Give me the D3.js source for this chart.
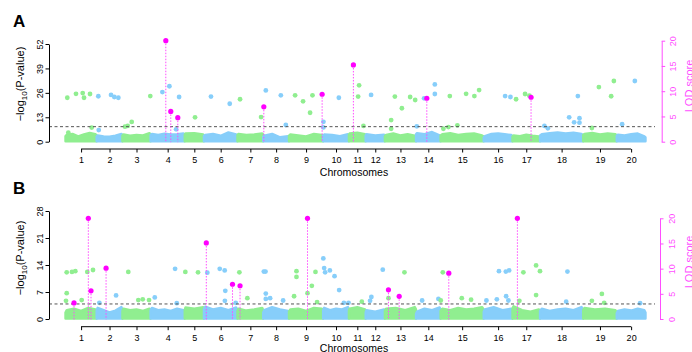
<!DOCTYPE html>
<html>
<head>
<meta charset="utf-8">
<script src="https://cdn.jsdelivr.net/npm/d3@7"></script>
<style>
  body { margin: 0; background: #fff; }
  svg { display: block; font-family: "Liberation Sans", Arial, sans-serif; }
</style>
</head>
<body>
<div id="chart"></div>
<script>
// chromosomes and their (approximate) lengths in Mb
const chromLabels = ['1','2','3','4','5','6','7','8','9','10','11','12','13','14','15','16','17','18','19','20'];
const chromLengths = [52, 43, 47, 57, 32, 56, 43, 43, 57, 43, 28, 32, 52, 41, 72, 48, 46, 72, 56, 48];

const pTicksA = [0, 13, 26, 39, 52];
const pTicksB = [0, 7, 14, 21, 28];
const lodTicks = [0, 5, 10, 15, 20];
const thresholdA = 8.0;
const thresholdB = 3.9;

// top of the dense cloud of non-significant SNPs, per chromosome (-log10 P)
const bandA = [
  [4.2, 4.8, 3.5, 4.5, 5.3, 4.6], [4.0, 3.5, 3.3, 3.8, 4.8], [4.5, 3.8, 4.2, 4.0, 5.2],
  [4.8, 4.2, 4.9, 4.5, 4.6, 5.0], [5.0, 5.2, 4.5], [4.3, 4.8, 3.8, 5.6, 4.5],
  [4.8, 4.2, 4.5, 5.0], [3.8, 4.8, 3.0, 3.6], [4.5, 4.0, 3.5, 4.8, 4.2],
  [4.5, 4.2, 3.6, 4.6], [5.0, 5.4, 4.6], [4.6, 4.0, 4.4], [4.2, 5.0, 4.0, 4.6, 3.8],
  [5.2, 4.6, 5.8, 4.0], [4.6, 5.2, 4.3, 4.8, 5.0, 4.0], [3.6, 4.8, 5.0, 4.6, 4.2],
  [4.0, 3.6, 4.4, 3.8, 3.5], [4.6, 5.2, 5.6, 5.0, 5.4, 4.8], [4.8, 5.3, 4.5, 5.0, 4.6],
  [4.4, 4.0, 4.6, 5.0, 3.5]
];
const bandB = [
  [2.6, 3.0, 2.4, 3.2, 2.8], [3.2, 2.6, 2.0, 2.5, 3.4], [3.0, 2.6, 2.8, 2.4, 3.0],
  [3.2, 2.6, 2.8, 2.4, 3.0, 2.6], [3.3, 3.0, 3.4], [3.5, 2.8, 3.2, 2.6, 3.3],
  [3.0, 2.5, 2.8, 3.2], [2.6, 3.4, 2.8, 2.4], [2.8, 3.0, 2.4, 3.2, 3.0],
  [3.2, 2.6, 3.0, 2.8, 3.4], [3.0, 3.4, 2.8], [2.6, 2.2, 2.8], [3.0, 3.2, 2.6, 3.4],
  [2.2, 3.0, 2.6, 3.3], [3.0, 2.6, 3.2, 2.8, 3.0, 3.4], [2.8, 3.4, 2.6, 3.0],
  [3.6, 2.6, 2.2, 2.8], [3.0, 2.4, 2.8, 3.0, 2.6, 3.4], [3.2, 2.8, 3.0, 2.6],
  [2.4, 2.8, 2.5, 3.0, 2.6]
];

// [chromosome, position (Mb), -log10 P]
const snpA = [
  [1,3.0,23.4],[1,17.5,25.5],[1,28.7,25.9],[1,30.9,23.4],[1,40.9,25.4],[1,43.7,7.5],[1,4.7,4.8],
  [2,2.8,24.2],[2,3.5,6.2],[2,24.0,24.9],[2,29.5,23.8],[2,36.2,23.4],
  [3,4.3,8.0],[3,8.8,8.4],[3,15.5,10.5],[3,46.5,24.3],
  [4,19.7,26.4],[4,31.4,29.5],[4,47.6,23.8],[4,42.6,6.6],
  [5,17.2,13.0],
  [6,11.8,24.0],[6,43.1,20.2],
  [7,4.3,22.6],[7,39.4,13.1],
  [8,4.3,27.3],[8,29.4,24.7],[8,37.7,8.9],
  [9,10.2,24.7],[9,23.5,21.5],[9,39.2,24.7],[9,35.2,15.4],
  [10,0.5,10.6],[10,0.4,7.6],[10,26.2,23.4],
  [11,17.0,30.0],[11,15.4,24.0],[11,24.2,8.4],
  [12,9.0,24.9],
  [13,10.5,11.5],[13,10.5,6.9],[13,16.7,24.0],[13,28.4,17.8],[13,42.2,23.8],[13,50.6,22.2],
  [14,13.5,23.1],[14,31.4,30.5],[14,31.4,25.4],[14,1.3,8.2],
  [15,15.4,24.3],[15,42.6,25.5],[15,56.4,24.3],[15,64.3,27.5],[15,4.7,6.9],[15,13.0,7.8],[15,28.0,8.7],
  [16,35.7,24.3],[16,44.6,23.8],
  [17,6.0,22.6],[17,21.0,25.4],[17,28.2,24.5],
  [18,48.6,13.0],[18,56.9,10.3],[18,63.1,24.3],[18,65.8,12.5],[18,65.8,10.1],[18,13.0,7.1],[18,7.3,8.4],
  [19,26.2,29.1],[19,46.7,24.2],[19,51.2,32.3],[19,14.5,7.3],
  [20,30.2,32.3],[20,9.0,9.3]
];
const snpB = [
  [1,2.0,12.1],[1,10.8,12.2],[1,16.4,12.4],[1,2.0,6.7],[1,0.8,4.7],[1,27.0,4.9],[1,36.4,12.2],[1,45.9,12.7],
  [2,4.5,4.2],[2,32.4,6.1],
  [3,9.8,12.2],[3,26.5,4.9],[3,33.9,5.1],[3,44.4,4.9],
  [4,7.0,5.6],[4,40.9,13.0],[4,43.7,4.1],
  [5,1.0,12.2],[5,22.2,12.1],
  [6,5.7,12.0],[6,26.4,13.0],[6,34.7,12.6],[6,35.7,7.3],[6,35.0,4.7],[6,53.1,4.2],
  [7,3.2,12.1],[7,16.5,5.4],
  [8,1.0,12.3],[8,3.8,12.3],[8,4.3,6.6],[8,4.3,5.2],[8,11.5,5.4],[8,33.2,4.8],
  [9,8.5,5.9],[9,12.5,12.4],[9,12.5,10.9],[9,38.1,8.6],[9,30.9,6.7],[9,44.2,12.2],[9,46.9,4.4],
  [10,0.3,15.7],[10,1.7,13.2],[10,3.3,12.1],[10,11.2,12.6],[10,19.0,11.1],[10,26.7,7.5],[10,34.6,4.2],[10,42.4,4.2],
  [11,21.5,4.5],
  [12,9.5,5.7],[12,7.3,4.7],[12,28.5,12.8],
  [13,6.0,5.4],[13,32.7,12.1],
  [14,10.2,4.8],[14,37.4,5.2],
  [15,3.7,12.1],[15,0.3,4.8],[15,35.4,5.4],[15,50.9,5.0],
  [16,4.5,4.8],[16,21.9,5.1],[16,25.4,12.4],[16,36.9,12.3],[16,42.4,12.6],[16,37.4,5.9],[16,41.2,4.8],
  [17,18.2,12.1],[17,11.5,4.7],[17,39.4,13.9],[17,45.9,12.4],[17,39.4,6.2],
  [18,45.7,12.3],[18,43.6,4.5],
  [19,31.2,6.5],[19,35.0,4.2],[19,14.5,4.7],
  [20,39.0,4.1]
];

// QTL peaks: [chromosome, position (Mb), LOD]
const lodA = [[4,25.4,20.0],[4,33.7,6.0],[4,45.4,4.75],[8,1.0,6.9],[9,55.3,9.4],[11,7.5,15.2],[14,18.0,8.6],[17,31.0,8.8]];
const lodB = [[1,14.2,3.2],[1,38.1,20.0],[1,42.6,5.6],[2,15.7,10.1],[6,4.0,15.1],[6,47.7,6.9],[7,4.3,6.6],
              [9,30.9,20.0],[13,6.0,5.8],[13,23.9,4.5],[15,13.7,9.1],[17,8.2,20.0]];

const green = '#90ee90', blue = '#87cefa', magenta = '#ff00ff', pink = '#ff4dff';
const font = '"Liberation Sans", Arial, sans-serif';

const svg = d3.select('#chart').append('svg')
    .attr('width', 692)
    .attr('height', 352);

const starts = [];
let acc = 0;
chromLengths.forEach(l => { starts.push(acc); acc += l; });
const mids = chromLengths.map((l, i) => starts[i] + l / 2);

const x = d3.scaleLinear().domain([0, acc]).range([65.5, 645.5]);
const gx = (c, pos) => x(starts[c - 1] + pos);
const colorOf = c => (c % 2 === 1 ? green : blue);

function drawPanel(p) {
    const g = svg.append('g');

    // dense band of low points
    p.band.forEach((prof, i) => {
        const n = prof.length;
        const pts = prof.map((h, j) => [starts[i] + chromLengths[i] * (0.04 + 0.92 * j / (n - 1)), h]);
        pts.unshift([starts[i], prof[0] - 0.6]);
        pts.push([starts[i] + chromLengths[i], prof[n - 1] - 0.6]);
        const area = d3.area()
            .x(d => x(d[0]))
            .y0(p.yP(0) - 0.5)
            .y1(d => p.yP(d[1]) + 1.2)
            .curve(d3.curveLinear);
        g.append('path')
            .datum(pts)
            .attr('d', area)
            .attr('fill', colorOf(i + 1))
            .attr('stroke', colorOf(i + 1))
            .attr('stroke-width', 2.4)
            .attr('stroke-linejoin', 'round');
    });

    g.selectAll('circle.snp')
        .data(p.snps)
        .enter()
        .append('circle')
        .attr('class', 'snp')
        .attr('cx', d => gx(d[0], d[1]))
        .attr('cy', d => p.yP(d[2]))
        .attr('r', 2.4)
        .attr('fill', d => colorOf(d[0]));

    // significance threshold
    g.append('line')
        .attr('x1', 49).attr('x2', 655)
        .attr('y1', p.yP(p.threshold)).attr('y2', p.yP(p.threshold))
        .attr('stroke', '#555')
        .attr('stroke-width', 1)
        .attr('stroke-dasharray', '3,2.5');

    // QTL peaks on the LOD scale
    g.selectAll('line.qtl')
        .data(p.lods)
        .enter()
        .append('line')
        .attr('class', 'qtl')
        .attr('x1', d => gx(d[0], d[1])).attr('x2', d => gx(d[0], d[1]))
        .attr('y1', d => p.yL(d[2])).attr('y2', p.yP(0) + 0.5)
        .attr('stroke', pink)
        .attr('stroke-width', 1)
        .attr('stroke-dasharray', '1.5,1.5');

    g.selectAll('circle.qtl')
        .data(p.lods)
        .enter()
        .append('circle')
        .attr('class', 'qtl')
        .attr('cx', d => gx(d[0], d[1]))
        .attr('cy', d => p.yL(d[2]))
        .attr('r', 2.6)
        .attr('fill', magenta);

    // left axis
    const ya = g.append('g')
        .attr('transform', 'translate(49,0)')
        .call(d3.axisLeft(p.yP).tickValues(p.pTicks).tickSize(3.5).tickSizeOuter(0));
    ya.attr('font-family', font).attr('font-size', 9);
    ya.selectAll('text')
        .attr('transform', 'rotate(-90)')
        .attr('x', 0).attr('y', -6.3).attr('dy', 0)
        .attr('text-anchor', 'middle')
        .attr('fill', '#000');

    // right LOD axis
    const yr = g.append('g')
        .attr('transform', `translate(${p.rightX},0)`)
        .call(d3.axisRight(p.yL).tickValues(lodTicks).tickSize(3.5).tickSizeOuter(0));
    yr.attr('font-family', font).attr('font-size', 9);
    yr.selectAll('path, line').attr('stroke', pink);
    yr.selectAll('text')
        .attr('transform', 'rotate(-90)')
        .attr('x', 0).attr('y', 14.5).attr('dy', 0)
        .attr('text-anchor', 'middle')
        .attr('fill', pink);

    // chromosome axis
    const xa = g.append('g')
        .attr('transform', `translate(0,${p.axisY})`)
        .call(d3.axisBottom(x).tickValues(mids).tickFormat((d, i) => chromLabels[i])
            .tickSize(3.5).tickPadding(4).tickSizeOuter(0));
    xa.attr('font-family', font).attr('font-size', 9);
    xa.select('.domain').remove();
    xa.append('line')
        .attr('x1', x(mids[0])).attr('x2', x(mids[mids.length - 1]))
        .attr('stroke', '#000');

    g.append('text')
        .attr('x', 354).attr('y', p.xLabelY)
        .attr('text-anchor', 'middle')
        .attr('font-size', 10.5)
        .text('Chromosomes');

    const yl = g.append('text')
        .attr('transform', `translate(24,${p.labelY}) rotate(-90)`)
        .attr('text-anchor', 'middle')
        .attr('font-size', 11);
    yl.append('tspan').text('\u2212log');
    yl.append('tspan').attr('font-size', 8).attr('dy', 3).text('10');
    yl.append('tspan').attr('dy', -3).text('(P-value)');

    g.append('text')
        .attr('transform', `translate(693,${p.lodLabelY}) rotate(-90)`)
        .attr('text-anchor', 'middle')
        .attr('font-size', 11)
        .attr('fill', pink)
        .text('LOD score');

    g.append('text')
        .attr('x', 13).attr('y', p.letterY)
        .attr('font-size', 17)
        .attr('font-weight', 'bold')
        .text(p.letter);
}

drawPanel({
    letter: 'A', letterY: 27,
    yP: d3.scaleLinear().domain([0, 52]).range([141.7, 44]),
    yL: d3.scaleLinear().domain([0, 20]).range([141.7, 40.7]),
    pTicks: pTicksA, threshold: thresholdA,
    band: bandA, snps: snpA, lods: lodA,
    axisY: 149, xLabelY: 175.5, rightX: 661.7, labelY: 84, lodLabelY: 86
});

drawPanel({
    letter: 'B', letterY: 194,
    yP: d3.scaleLinear().domain([0, 28]).range([319, 211]),
    yL: d3.scaleLinear().domain([0, 20]).range([319, 218.3]),
    pTicks: pTicksB, threshold: thresholdB,
    band: bandB, snps: snpB, lods: lodB,
    axisY: 326.7, xLabelY: 352, rightX: 660, labelY: 258, lodLabelY: 262
});
</script>
</body>
</html>
